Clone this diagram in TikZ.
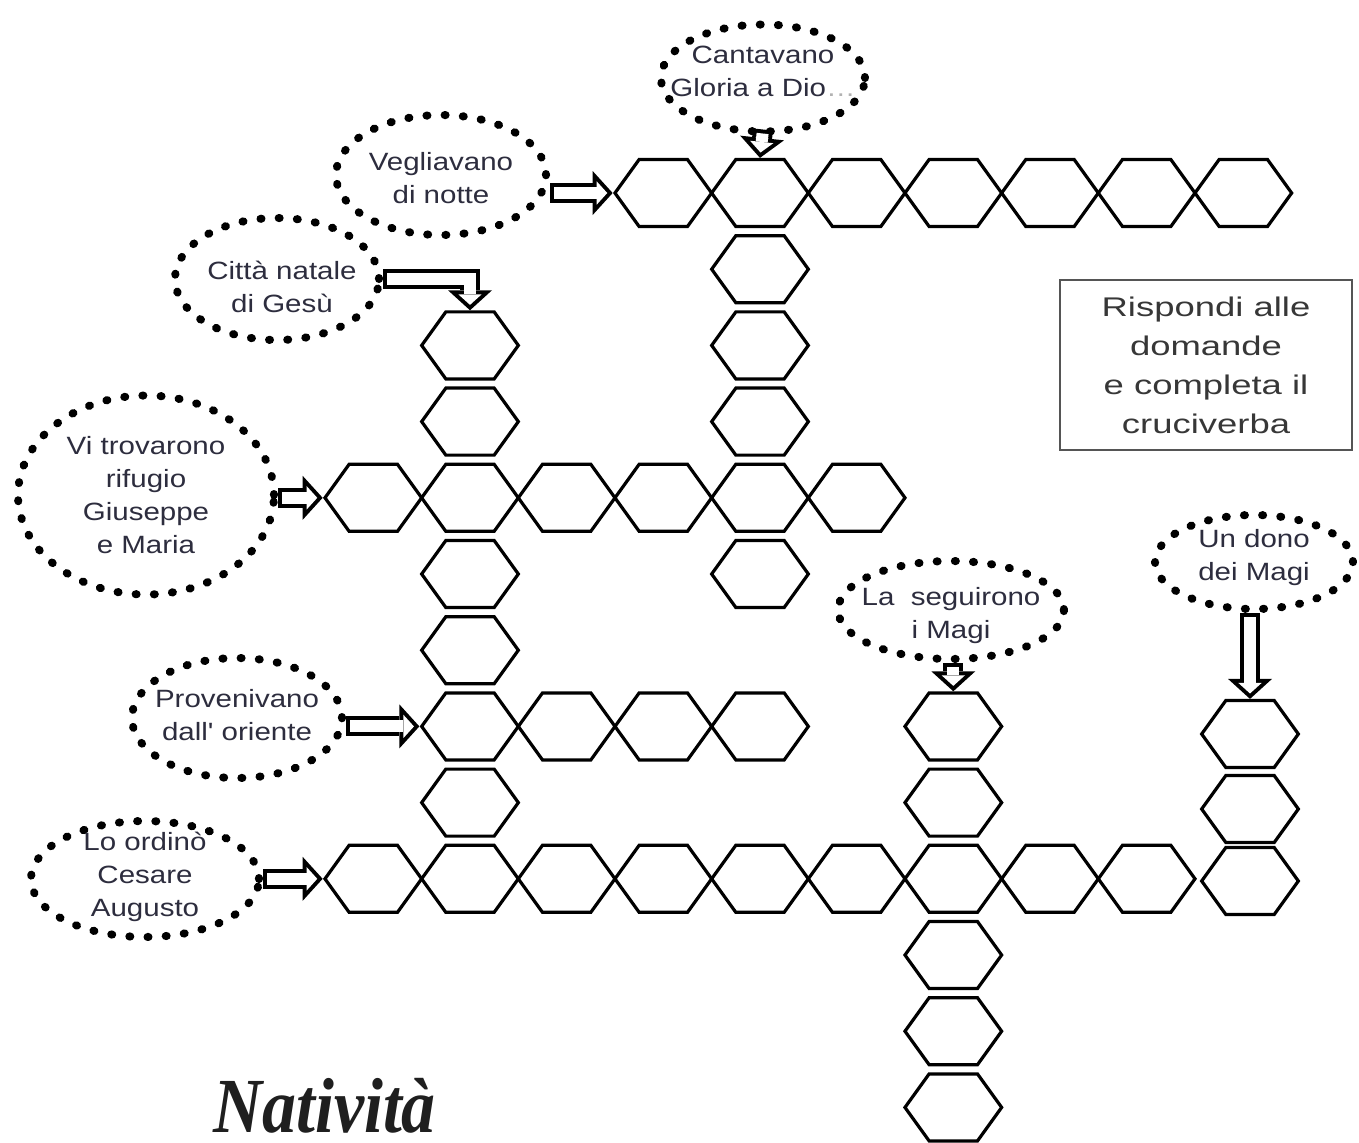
\documentclass[tikz,border=0pt]{standalone}
\usepackage{fontspec}
\setmainfont{Liberation Sans}
\newfontfamily\cluefont[FakeStretch=1.18]{Liberation Sans}
\newfontfamily\notefont[FakeStretch=1.35]{Liberation Sans}
\newfontfamily\headfont[FakeStretch=0.87]{Liberation Serif}
\usetikzlibrary{shapes.geometric, arrows.meta, positioning}
\definecolor{cluetext}{RGB}{45,45,62}
\definecolor{notetext}{RGB}{55,55,55}
\definecolor{noteline}{RGB}{85,85,85}
\tikzstyle{hexcell} = [regular polygon, regular polygon sides=6, draw, line width=1.6pt, minimum size=38.7pt, inner sep=0pt, xscale=1.249, transform shape]
\tikzstyle{bubble} = [ellipse, draw, line width=4pt, line cap=round, dash pattern=on 0.5pt off 8.6pt, inner sep=0pt]
\tikzstyle{clue} = [align=center, text=cluetext, font=\cluefont\fontsize{12.5}{16.5}\selectfont]
\tikzstyle{hollow} = [line width=10pt, -{Triangle[width=22pt 0 0, length=10pt 0 0, line width=0pt 0 0]}, postaction={draw=white, line width=6pt, shorten <=2pt, shorten >=2.7pt, -{Triangle[width=11.7pt 0 0, length=5.3pt 0 0, line width=0pt 0 0]}}]
\tikzstyle{notebox} = [rectangle, draw=noteline, line width=1pt, minimum width=146pt, minimum height=85pt, align=center, text=notetext, font=\notefont\fontsize{13.5}{19.5}\selectfont]
\tikzstyle{heading} = [inner sep=0pt, text=black!88, font=\headfont\fontsize{39}{39}\selectfont\bfseries\itshape]

\begin{document}
\begin{tikzpicture}[x=0.5pt, y=-0.5pt]
    \useasboundingbox (0,0) rectangle (1359,1142);

    % Clues
    \node (cant) [bubble, minimum width=102pt, minimum height=53.5pt, label={[clue, yshift=3.5pt]center:Cantavano\\Gloria a Dio\textcolor{black!30}{…}}] at (763,78) {};
    \node (notte) [bubble, minimum width=105pt, minimum height=60pt, label={[clue, yshift=-1.5pt]center:Vegliavano\\di notte}] at (441,175) {};
    \node (citta) [bubble, minimum width=102pt, minimum height=61pt, label={[clue, xshift=2.5pt, yshift=-4pt]center:Città natale\\di Gesù}] at (277,279) {};
    \node (rifugio) [bubble, minimum width=128pt, minimum height=99.5pt, label={[clue]center:Vi trovarono\\rifugio\\Giuseppe\\e Maria}] at (146,495) {};
    \node (oriente) [bubble, minimum width=105pt, minimum height=60pt, label={[clue, yshift=1.5pt]center:Provenivano\\dall' oriente}] at (237,718) {};
    \node (augusto) [bubble, minimum width=114pt, minimum height=58pt, label={[clue, yshift=1pt]center:Lo ordinò\\Cesare\\Augusto}] at (145,879) {};
    \node (seguirono) [bubble, minimum width=113pt, minimum height=49pt, label={[clue, yshift=-3pt]center:La~~seguirono\\i Magi}] at (951,610) {};
    \node (dono) [bubble, minimum width=99pt, minimum height=47pt, label={[clue, yshift=2pt]center:Un dono\\dei Magi}] at (1254,562) {};

    \node (istruzioni) [notebox] at (1206,365) {Rispondi alle\\domande\\e completa il\\cruciverba};
    \node (nativita) [heading, anchor=base west] at (213,1132) {Natività};

    % Across
    \foreach \i in {0,...,6}
        \node (ps\i) [hexcell] at ({663.3+96.67*\i},193) {};
    \foreach \i in {0,...,5}
        \node (st\i) [hexcell] at ({373.3+96.67*\i},497.8) {};
    \foreach \i in {0,...,3}
        \node (mg\i) [hexcell] at ({470+96.67*\i},726.4) {};
    \foreach \i in {0,...,8}
        \node (cs\i) [hexcell] at ({373.3+96.67*\i},878.8) {};

    % Down
    \foreach \i in {1,2,3,5}
        \node (an\i) [hexcell] at (760,{193+76.2*\i}) {};
    \foreach \i in {0,1,3,4,6}
        \node (bt\i) [hexcell] at (470,{345.4+76.2*\i}) {};
    \foreach \i in {0,1,3,4,5}
        \node (sl\i) [hexcell] at (953.3,{726.4+76.2*\i}) {};
    \node (or0) [hexcell] at (1250,734) {};
    \node (or1) [hexcell] at (1250,809) {};
    \node (or2) [hexcell] at (1250,881) {};

    % Arrows
    \draw [hollow] (ps0.west -| notte.east) -- (ps0.west);
    \draw [hollow] ([yshift=3pt]cant.south) -- (ps1.north);
    \draw [hollow] (citta.east) -| (bt0.north);
    \draw [hollow] (st0.west -| rifugio.east) -- (st0.west);
    \draw [hollow] (mg0.west -| oriente.east) -- (mg0.west);
    \draw [hollow] (cs0.west -| augusto.east) -- (cs0.west);
    \draw [hollow] (sl0.north |- seguirono.south) -- (sl0.north);
    \draw [hollow] (or0.north |- dono.south) -- (or0.north);

\end{tikzpicture}
\end{document}
